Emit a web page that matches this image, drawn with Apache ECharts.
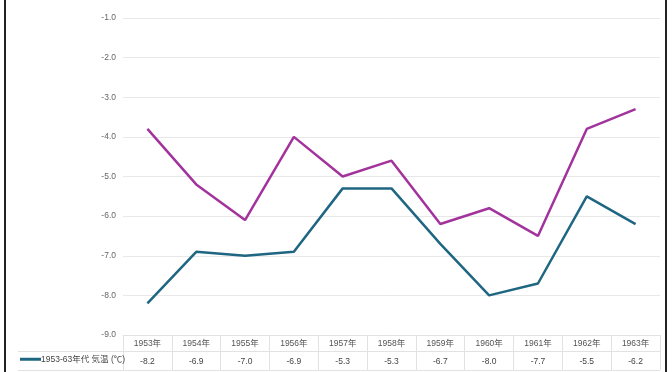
<!DOCTYPE html>
<html><head><meta charset="utf-8">
<script src="https://cdn.jsdelivr.net/npm/echarts@6/dist/echarts.min.js"></script>
<style>html,body{margin:0;padding:0;background:#fff}#c{width:672px;height:372px}</style>
</head><body><div id="c"></div>
<script>
const categories = ['1953年','1954年','1955年','1956年','1957年','1958年','1959年','1960年','1961年','1962年','1963年'];
const series1Name = '1953-63年代 気温 (℃)';
const series1 = [-8.2,-6.9,-7.0,-6.9,-5.3,-5.3,-6.7,-8.0,-7.7,-5.5,-6.2];
const series2Name = '比較 気温 (℃)';
const series2 = [-3.8,-5.2,-6.1,-4.0,-5.0,-4.6,-6.2,-5.8,-6.5,-3.8,-3.3];
const yTicks = [-9,-8,-7,-6,-5,-4,-3,-2,-1];

const FONT = '"Liberation Sans", Arial, "Noto Sans CJK JP", sans-serif';
const W = 672, H = 372;
const G = {left:123, right:12, top:18, bottom:37};
const tableTop = H - G.bottom, headerBottom = tableTop + 16, rowBottom = tableTop + 35;
const gridRight = W - G.right;
const lineColor = '#e2e2e2';

const chart = echarts.init(document.getElementById('c'), null, {renderer:'canvas'});
chart.setOption({
  animation:false,
  textStyle:{fontFamily:FONT},
  grid:{left:G.left, right:G.right, top:G.top, bottom:G.bottom, containLabel:false},
  legend:{
    data:[series1Name], left:20, top:tableTop+20, icon:'rect', itemWidth:21, itemHeight:3,
    itemGap:0, padding:0,
    textStyle:{fontSize:8.5, color:'#444', fontFamily:FONT, padding:[0,0,0,-5]}
  },
  xAxis:{
    type:'category', data:categories, boundaryGap:true,
    axisLine:{show:true, lineStyle:{color:lineColor, width:1}},
    axisTick:{show:true, interval:0, length:35, lineStyle:{color:lineColor}},
    axisLabel:{
      interval:0, margin:1, color:'#555', fontSize:8.5, fontFamily:FONT,
      formatter:(v, i) => '{y|' + v + '}\n{v|' + series1[i].toFixed(1) + '}',
      rich:{y:{lineHeight:16, fontSize:8.5, color:'#555'}, v:{lineHeight:19, fontSize:8.5, color:'#444'}}
    }
  },
  yAxis:{
    type:'value', min:yTicks[0], max:yTicks[yTicks.length-1], interval:1,
    axisLine:{show:false}, axisTick:{show:false},
    axisLabel:{color:'#666', fontSize:8.5, margin:7, fontFamily:FONT, formatter:v => v.toFixed(1)},
    splitLine:{show:true, lineStyle:{color:'#e8e8e8', width:1}}
  },
  series:[
    {name:series1Name, type:'line', data:series1, symbol:'none', lineStyle:{color:'#1f6682', width:2.5}, itemStyle:{color:'#1f6682'}},
    {name:series2Name, type:'line', data:series2, symbol:'none', lineStyle:{color:'#a3339c', width:2.5}, itemStyle:{color:'#a3339c'}}
  ],
  graphic:[
    {type:'line', shape:{x1:18, y1:headerBottom+0.5, x2:gridRight, y2:headerBottom+0.5}, style:{stroke:lineColor, lineWidth:1}, silent:true},
    {type:'line', shape:{x1:18, y1:rowBottom+0.5, x2:gridRight, y2:rowBottom+0.5}, style:{stroke:lineColor, lineWidth:1}, silent:true},
    {type:'rect', shape:{x:4, y:0, width:2, height:H}, style:{fill:'#222'}, silent:true},
    {type:'rect', shape:{x:665, y:0, width:2, height:H}, style:{fill:'#222'}, silent:true}
  ]
});
</script></body></html>
